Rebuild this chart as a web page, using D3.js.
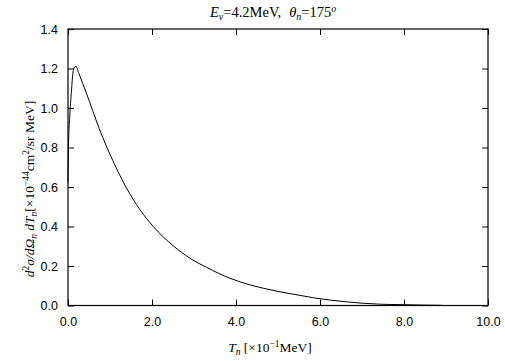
<!DOCTYPE html>
<html><head><meta charset="utf-8">
<script src="https://cdn.jsdelivr.net/npm/d3@7"></script>
<style>body{margin:0;background:#fff}svg{display:block}</style>
</head><body>
<svg id="c" width="505" height="361"></svg>
<script>
const T = [0.0,0.01,0.04,0.08,0.126,0.17,0.19,0.25,0.43,0.745,1.064,1.38,1.714,2.03,2.507,2.9,3.30,3.857,4.34,4.66,5.05,5.45,5.85,6.25,6.65,7.04,7.5,8.0,8.5,8.9];
const sigma = [0.62,0.80,0.95,1.08,1.19,1.21,1.211,1.18,1.08,0.895,0.735,0.600,0.485,0.40,0.302,0.240,0.193,0.138,0.104,0.087,0.069,0.054,0.039,0.027,0.018,0.011,0.006,0.004,0.002,0.001];
const xTicks = [0,2,4,6,8,10];
const yTicks = [0,0.2,0.4,0.6,0.8,1.0,1.2,1.4];

const svg = d3.select("#c");
const L=68,R=488,Tp=29,B=305.5;
const x = d3.scaleLinear().domain([0,10]).range([L,R]);
const y = d3.scaleLinear().domain([0,1.4]).range([B,Tp]);
const tl = 6;
const sans = "'Liberation Sans', Arial, sans-serif";
const serif = "'Liberation Serif', 'Times New Roman', serif";

const gB = svg.append("g").attr("transform",`translate(0,${B})`)
  .call(d3.axisBottom(x).tickValues(xTicks).tickSizeInner(-tl).tickSizeOuter(0).tickPadding(12).tickFormat(d3.format(".1f")));
const gT = svg.append("g").attr("transform",`translate(0,${Tp})`)
  .call(d3.axisTop(x).tickValues(xTicks).tickSizeInner(-tl).tickSizeOuter(0).tickFormat(""));
const gL = svg.append("g").attr("transform",`translate(${L},0)`)
  .call(d3.axisLeft(y).tickValues(yTicks).tickSizeInner(-tl).tickSizeOuter(0).tickPadding(10).tickFormat(d3.format(".1f")));
const gR = svg.append("g").attr("transform",`translate(${R},0)`)
  .call(d3.axisRight(y).tickValues(yTicks).tickSizeInner(-tl).tickSizeOuter(0).tickFormat(""));
[gB,gT,gL,gR].forEach(g=>{
  g.select(".domain").remove();
  g.selectAll("line").attr("stroke","#000");
  g.selectAll("text").attr("font-family",sans).attr("font-size",12.5).attr("fill","#000");
});
svg.append("rect").attr("x",L).attr("y",Tp).attr("width",R-L).attr("height",B-Tp)
  .attr("fill","none").attr("stroke","#000").attr("stroke-width",1.2);

svg.append("path").datum(T.map((t,i)=>[t,sigma[i]]))
  .attr("d",d3.line().curve(d3.curveMonotoneX).x(d=>x(d[0])).y(d=>y(d[1])))
  .attr("fill","none").attr("stroke","#000").attr("stroke-width",1);

const title = svg.append("text").attr("x",210).attr("y",17).attr("text-anchor","start")
  .attr("font-family",serif).attr("font-size",14.5);
title.append("tspan").attr("font-style","italic").text("E");
title.append("tspan").attr("font-style","italic").attr("font-size",10).attr("dy",3).text("ν");
title.append("tspan").attr("dy",-3).text("=4.2MeV,");
title.append("tspan").attr("dx",8).attr("font-style","italic").text("θ");
title.append("tspan").attr("font-style","italic").attr("font-size",10).attr("dy",3).text("n");
title.append("tspan").attr("dy",-3).text("=175");
title.append("tspan").attr("font-style","italic").attr("font-size",10).attr("dy",-5).text("o");

const xl = svg.append("text").attr("x",270).attr("y",352).attr("text-anchor","middle")
  .attr("font-family",serif).attr("font-size",13.5);
xl.append("tspan").attr("font-style","italic").text("T");
xl.append("tspan").attr("font-style","italic").attr("font-size",9.5).attr("dy",3).text("n");
xl.append("tspan").attr("dy",-3).text(" [×10");
xl.append("tspan").attr("font-size",9.5).attr("dy",-5).text("−1");
xl.append("tspan").attr("dy",5).text("MeV]");

const yl = svg.append("text").attr("transform","translate(34,189) rotate(-90)").attr("text-anchor","middle")
  .attr("font-family",serif).attr("font-size",13.5);
yl.append("tspan").attr("font-style","italic").text("d");
yl.append("tspan").attr("font-size",9.5).attr("dy",-5).text("2");
yl.append("tspan").attr("dy",5).attr("font-style","italic").text("σ/dΩ");
yl.append("tspan").attr("font-style","italic").attr("font-size",9.5).attr("dy",3).text("n");
yl.append("tspan").attr("dy",-3).attr("font-style","italic").text(" dT");
yl.append("tspan").attr("font-style","italic").attr("font-size",9.5).attr("dy",3).text("n");
yl.append("tspan").attr("dy",-3).text("[×10");
yl.append("tspan").attr("font-size",9.5).attr("dy",-5).text("−44");
yl.append("tspan").attr("dy",5).text("cm");
yl.append("tspan").attr("font-size",9.5).attr("dy",-5).text("2");
yl.append("tspan").attr("dy",5).text("/sr MeV]");
</script>
</body></html>
